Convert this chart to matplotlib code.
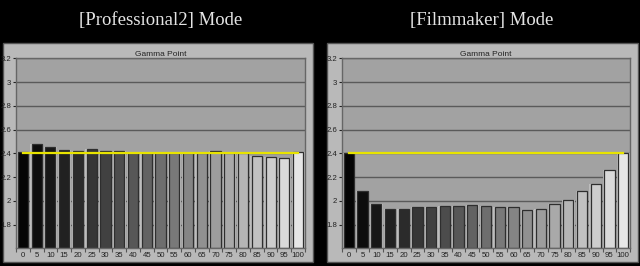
import matplotlib
matplotlib.use("Agg")
import numpy as np
import matplotlib.pyplot as plt
from matplotlib.patches import Rectangle

# 数据
levels = [0, 5, 10, 15, 20, 25, 30, 35, 40, 45, 50, 55, 60, 65, 70, 75, 80, 85, 90, 95, 100]
pro2_gamma = [2.41, 2.48, 2.45, 2.43, 2.42, 2.44, 2.42, 2.42, 2.40, 2.40, 2.40,
              2.40, 2.40, 2.40, 2.42, 2.40, 2.40, 2.375, 2.37, 2.36, 2.41]
film_gamma = [2.405, 2.08, 1.977, 1.935, 1.93, 1.946, 1.952, 1.957, 1.957, 1.968, 1.957,
              1.952, 1.944, 1.92, 1.93, 1.97, 2.008, 2.086, 2.14, 2.263, 2.405]
target = 2.4
titles = ["[Professional2] Mode", "[Filmmaker] Mode"]
yticks = [1.8, 2, 2.2, 2.4, 2.6, 2.8, 3, 3.2]
ytick_labels = ["1.8", "2", "2.2", "2.4", "2.6", "2.8", "3", "3.2"]

W, H = 640, 266
fig = plt.figure(figsize=(6.4, 2.66), dpi=100, facecolor="black")


def px(x0, y0, x1, y1):
    # 像素坐标 -> figure 坐标
    return [x0 / W, 1 - y1 / H, (x1 - x0) / W, (y1 - y0) / H]


frames = [(3, 43, 313, 262), (327, 43, 638, 262)]
axes_px = [(16, 58.3, 305, 248.3), (342, 58.3, 630, 248.3)]
title_x = [161, 482]
small = dict(family="Liberation Sans", size=5.6)

for k, data in enumerate([pro2_gamma, film_gamma]):
    fx0, fy0, fx1, fy1 = frames[k]
    fig.patches.append(Rectangle((fx0 / W, 1 - fy1 / H), (fx1 - fx0) / W, (fy1 - fy0) / H,
                                 transform=fig.transFigure, facecolor="#b9b9b9",
                                 edgecolor="#555555", lw=1.0, zorder=-5))
    fig.text(title_x[k] / W, 1 - 20 / H, titles[k], color="#e4e4e4", ha="center", va="center",
             fontsize=13.5, family="Liberation Serif")

    ax = fig.add_axes(px(*axes_px[k]))
    ax.set_facecolor("#a2a2a2")
    x = np.arange(len(levels))
    n = len(levels)
    colors = [str(0.02 + 0.88 * (i / (n - 1)) ** 1.1) for i in range(n)]
    h = np.array(data) - 1.6
    # 网格线（在柱子后面）
    for yv in yticks:
        ax.axhline(yv, color="#5a5a5a", lw=1.0, zorder=1)
    # 柱子外圈的浅色高光
    ax.bar(x, h, bottom=1.6, width=0.93, color="#bdbdbd", lw=0, zorder=1.5)
    ax.bar(x, h, bottom=1.6, width=0.74, color=colors,
           edgecolor="#2e2e2e", linewidth=0.9, zorder=2)
    ax.plot([0, n - 1], [target, target], color="#e8e400", lw=1.6, zorder=3)
    ax.set_xlim(-0.42, n - 1 + 0.42)
    ax.set_ylim(1.6, 3.2)
    ax.set_yticks(yticks)
    ax.set_yticklabels(ytick_labels, **small)
    ax.set_xticks(x)
    ax.set_xticklabels([str(v) for v in levels], **small)
    ax.set_xticks(np.arange(-0.5, n, 1), minor=True)
    ax.tick_params(axis="x", which="major", length=0, colors="#222222", pad=2.5)
    ax.tick_params(axis="x", which="minor", length=3, color="#555555", width=0.8)
    ax.tick_params(axis="y", length=2.5, colors="#222222", pad=0.8, width=0.8)
    for s in ax.spines.values():
        s.set_color("#666666")
        s.set_linewidth(1.0)
    ax.set_title("Gamma Point", fontsize=6, family="Liberation Sans", color="#222222", pad=2)

fig.savefig("out.png", dpi=100, facecolor="black")
